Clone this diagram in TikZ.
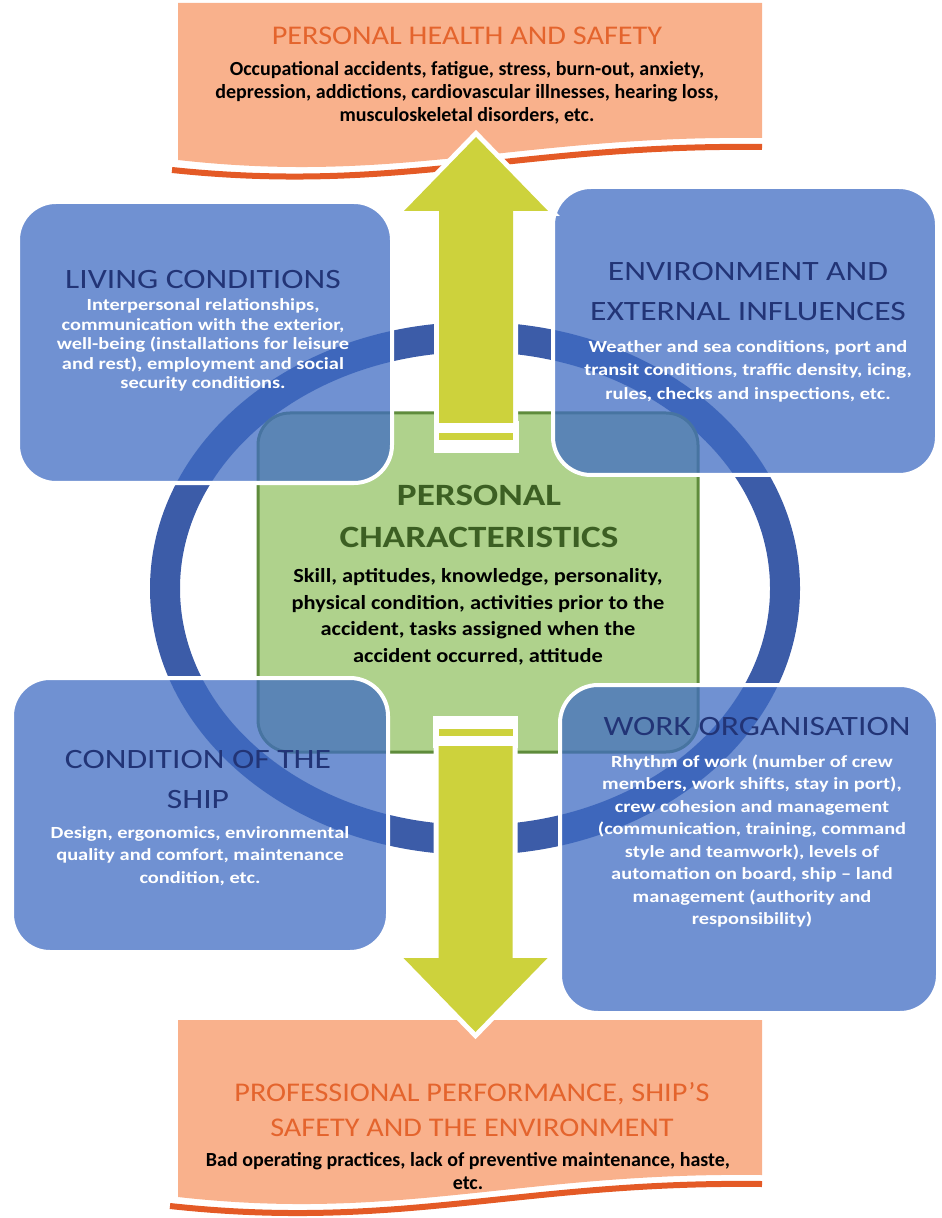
\documentclass[tikz,border=0pt]{standalone}
\usepackage{fontspec}
\setmainfont{Carlito}
\newfontfamily\widefont{Carlito}[FakeStretch=1.2, Ligatures=TeX]
\newfontfamily\midfont{Carlito}[FakeStretch=1.12, Ligatures=TeX]
\usepackage{tikz}
\usepackage{xcolor}
\definecolor{bannerfill}{RGB}{249,177,140}
\definecolor{bannerline}{RGB}{228,90,38}
\definecolor{bannertext}{RGB}{228,100,45}
\definecolor{arrowgreen}{RGB}{205,210,60}
\definecolor{ringblue}{RGB}{60,92,168}
\definecolor{boxblue}{RGB}{64,108,195}
\definecolor{navytext}{RGB}{34,52,118}
\definecolor{greenfill}{RGB}{175,210,140}
\definecolor{greenline}{RGB}{95,140,60}
\definecolor{greentext}{RGB}{60,95,35}
% block arrow: #1 tail coordinate, #2 = 1 down / -1 up
\newcommand{\flowarrow}[2]{%
  \begin{scope}[shift={(#1)}, yscale=#2]
    \fill[white] (-42.5,-30) rectangle (42.5,2);
    \fill[arrowgreen, preaction={draw=white, line width=5pt}] (-37,0) -- (-37,212) -- (-72,212) -- (0,286) -- (72,212) -- (37,212) -- (37,0) -- cycle;
    \fill[arrowgreen] (-37,-10) rectangle (37,-17);
  \end{scope}}

\begin{document}
\begin{tikzpicture}[x=0.5pt, y=-0.5pt, every node/.style={inner sep=0pt, align=center},
  bluebox/.style={draw=white, line width=2pt, fill=boxblue, fill opacity=.75, rounded corners=19pt},
  greenbox/.style={draw=greenline, line width=1.5pt, fill=greenfill, rounded corners=16pt},
  ringline/.style={draw=ringblue, line width=15pt},
  bannerline/.style={draw=bannerline, line width=3pt},
  bannertitle/.style={font=\midfont\fontsize{13.5}{17.5}\selectfont, text=bannertext},
  bannerbody/.style={font=\bfseries\fontsize{10}{11.5}\selectfont},
  boxtitle/.style={font=\widefont\fontsize{14}{20}\selectfont, text=navytext},
  boxbody/.style={font=\widefont\bfseries\fontsize{8.5}{11.25}\selectfont, text=white},
  chartitle/.style={font=\widefont\bfseries\fontsize{15.5}{21}\selectfont, text=greentext},
  charbody/.style={font=\midfont\bfseries\fontsize{10}{13.3}\selectfont}]
\path[use as bounding box] (0,0) rectangle (941,1218);

% ring and boxes
\draw[ringline] (475,588.5) ellipse [x radius=310, y radius=251.5];
\node[greenbox, minimum width=220pt, minimum height=169.5pt] (chars) at (478,582.5) {};
\node[bluebox, minimum width=187pt, minimum height=140.5pt] (living) at (205,342.5) {};
\node[bluebox, minimum width=192pt, minimum height=144pt] (environ) at (745,331) {};
\node[bluebox, minimum width=188pt, minimum height=137pt] (shipcond) at (200,815) {};
\node[bluebox, minimum width=189pt, minimum height=164pt] (workorg) at (749,849) {};

% banners
\draw[bannerline] (172,170) .. controls (400,194) and (520,144) .. (762,147);
\fill[bannerfill] (178,3) -- (762,3) -- (762,138) .. controls (520,135) and (400,185) .. (178,160) -- cycle;
\draw[bannerline] (170,1206) .. controls (400,1231) and (520,1181) .. (762,1184);
\fill[bannerfill] (178,1020) -- (762,1020) -- (762,1175) .. controls (520,1172) and (400,1222) .. (178,1197) -- cycle;

% arrows
\coordinate (uptail) at (476,423);
\coordinate (downtail) at (475.5,746);
\flowarrow{uptail}{-1}
\flowarrow{downtail}{1}

% texts
\node[bannertitle] (healthtitle) at (467,36) {PERSONAL HEALTH AND SAFETY};
\node[bannerbody] (healthbody) at (467,93) {Occupational accidents, fatigue, stress, burn-out, anxiety,\\depression, addictions, cardiovascular illnesses, hearing loss,\\musculoskeletal disorders, etc.};
\node[boxtitle] (livingtitle) at (203,280) {LIVING CONDITIONS};
\node[boxbody, font=\widefont\bfseries\fontsize{8.5}{9.75}\selectfont] (livingbody) at (203,345) {Interpersonal relationships,\\communication with the exterior,\\well-being (installations for leisure\\and rest), employment and social\\security conditions.};
\node[boxtitle] (environtitle) at (748,292) {ENVIRONMENT AND\\EXTERNAL INFLUENCES};
\node[boxbody, font=\widefont\bfseries\fontsize{8.5}{11.75}\selectfont] (environbody) at (748,371) {Weather and sea conditions, port and\\transit conditions, traffic density, icing,\\rules, checks and inspections, etc.};
\node[chartitle] (chartitle) at (479,516) {PERSONAL\\CHARACTERISTICS};
\node[charbody] (charbody) at (478,617) {Skill, aptitudes, knowledge, personality,\\physical condition, activities prior to the\\accident, tasks assigned when the\\accident occurred, attitude};
\node[boxtitle] (shiptitle) at (198,780) {CONDITION OF THE\\SHIP};
\node[boxbody] (shipbody) at (200,856) {Design, ergonomics, environmental\\quality and comfort, maintenance\\condition, etc.};
\node[boxtitle] (worktitle) at (757,727) {WORK ORGANISATION};
\node[boxbody] (workbody) at (752,841) {Rhythm of work (number of crew\\members, work shifts, stay in port),\\crew cohesion and management\\(communication, training, command\\style and teamwork), levels of\\automation on board, ship – land\\management (authority and\\responsibility)};
\node[bannertitle] (perftitle) at (472,1110) {PROFESSIONAL PERFORMANCE, SHIP’S\\SAFETY AND THE ENVIRONMENT};
\node[bannerbody] (perfbody) at (468,1171) {Bad operating practices, lack of preventive maintenance, haste,\\etc.};
\end{tikzpicture}
\end{document}
